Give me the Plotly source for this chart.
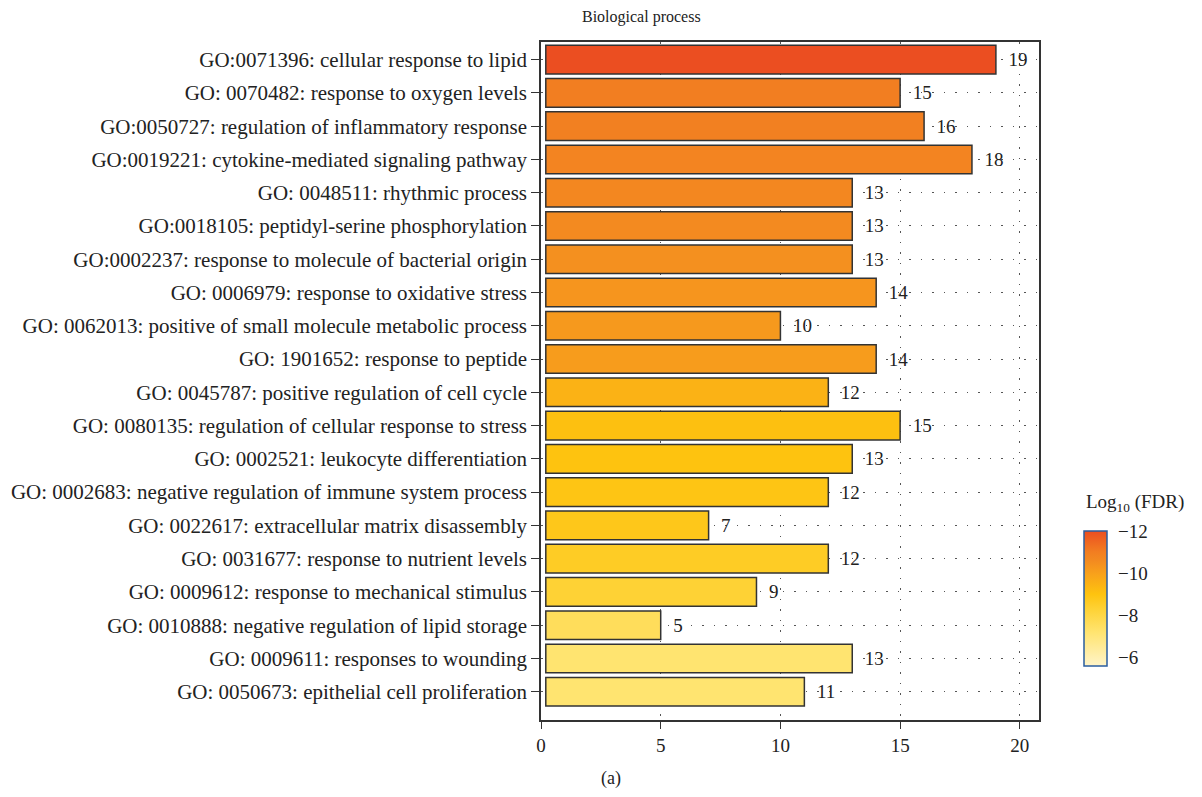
import plotly.graph_objects as go

terms = [
    "GO:0071396: cellular response to lipid",
    "GO: 0070482: response to oxygen levels",
    "GO:0050727: regulation of inflammatory response",
    "GO:0019221: cytokine-mediated signaling pathway",
    "GO: 0048511: rhythmic process",
    "GO:0018105: peptidyl-serine phosphorylation",
    "GO:0002237: response to molecule of bacterial origin",
    "GO: 0006979: response to oxidative stress",
    "GO: 0062013: positive of small molecule metabolic process",
    "GO: 1901652: response to peptide",
    "GO: 0045787: positive regulation of cell cycle",
    "GO: 0080135: regulation of cellular response to stress",
    "GO: 0002521: leukocyte differentiation",
    "GO: 0002683: negative regulation of immune system process",
    "GO: 0022617: extracellular matrix disassembly",
    "GO: 0031677: response to nutrient levels",
    "GO: 0009612: response to mechanical stimulus",
    "GO: 0010888: negative regulation of lipid storage",
    "GO: 0009611: responses to wounding",
    "GO: 0050673: epithelial cell proliferation",
]
gene_counts = [19, 15, 16, 18, 13, 13, 13, 14, 10, 14, 12, 15, 13, 12, 7, 12, 9, 5, 13, 11]
log10_fdr = [-12.5, -11.0, -10.95, -10.8, -10.7, -10.6, -10.45, -10.3, -10.2, -10.1,
             -9.5, -9.1, -9.0, -8.9, -8.8, -8.6, -8.3, -7.6, -7.2, -7.2]
cbar_ticks = [-12, -10, -8, -6]

FONT = "Liberation Serif"
base_off = 0.2
neg = [-v for v in log10_fdr]

cmin, cmax = 5.6, 12.0
def nz(v):
    return (v - cmin) / (cmax - cmin)

colorscale = [
    [0.0, "#FFF4C8"],
    [nz(7.2), "#FFE470"],
    [nz(8.3), "#FED235"],
    [nz(9.0), "#FEC30F"],
    [nz(10.0), "#F8A01B"],
    [nz(10.6), "#F38A20"],
    [nz(11.0), "#F27E21"],
    [1.0, "#EB4E21"],
]

ML, MR, MT, MB = 541, 163, 42, 77
W, H = 1202, 797
pw = W - ML - MR
ph = H - MT - MB

def px_x(x):
    return (x - ML) / pw

def px_y(y):
    return (H - MB - y) / ph

fig = go.Figure()
fig.add_trace(go.Bar(
    y=terms,
    x=[v - base_off for v in gene_counts],
    base=[base_off] * len(gene_counts),
    orientation="h",
    width=0.86,
    text=[str(v) for v in gene_counts],
    texttemplate="  %{text}",
    textposition="outside",
    textfont=dict(family=FONT, size=19, color="#222222"),
    cliponaxis=False,
    marker=dict(
        color=neg,
        cmin=cmin,
        cmax=cmax,
        colorscale=colorscale,
        line=dict(color="#333333", width=1.5),
        colorbar=dict(
            tickvals=[-t for t in cbar_ticks],
            ticktext=["\u2212" + str(-t) for t in cbar_ticks],
            tickfont=dict(family=FONT, size=19, color="#222222"),
            ticks="outside",
            ticklen=7,
            tickcolor="rgba(0,0,0,0)",
            thickness=23,
            thicknessmode="pixels",
            len=135,
            lenmode="pixels",
            x=px_x(1084),
            xanchor="left",
            xpad=0,
            y=px_y(666),
            yanchor="bottom",
            ypad=0,
            outlinecolor="#2A5D9F",
            outlinewidth=1.5,
        ),
    ),
    showlegend=False,
))

fig.update_layout(
    width=W,
    height=H,
    margin=dict(l=ML, r=MR, t=MT, b=MB),
    plot_bgcolor="white",
    paper_bgcolor="white",
    font=dict(family=FONT, size=18, color="#222222"),
    xaxis=dict(
        range=[0, 20.8],
        tickvals=[0, 5, 10, 15, 20],
        ticks="outside",
        ticklen=7,
        tickcolor="#333333",
        tickfont=dict(family=FONT, size=19, color="#222222"),
        showline=True,
        linecolor="#333333",
        linewidth=1.5,
        mirror=True,
        showgrid=True,
        gridcolor="#555555",
        gridwidth=1,
        griddash="1.5px,9px",
        zeroline=False,
    ),
    yaxis=dict(
        categoryorder="array",
        categoryarray=terms,
        range=[19.85, -0.53],
        ticks="outside",
        ticklen=8,
        tickcolor="#333333",
        tickfont=dict(family=FONT, size=21, color="#222222"),
        showline=True,
        linecolor="#333333",
        linewidth=1.5,
        mirror=True,
        showgrid=True,
        gridcolor="#555555",
        gridwidth=1,
        griddash="1.5px,10px",
    ),
    annotations=[
        dict(text="Biological process", x=px_x(641), y=px_y(17), xref="paper", yref="paper",
             xanchor="center", yanchor="middle", showarrow=False,
             font=dict(family=FONT, size=16, color="#222222")),
        dict(text="(a)", x=px_x(611), y=px_y(778), xref="paper", yref="paper",
             xanchor="center", yanchor="middle", showarrow=False,
             font=dict(family=FONT, size=18, color="#222222")),
        dict(text="Log<sub>10</sub> (FDR)", x=px_x(1084), y=px_y(503), xref="paper", yref="paper",
             xanchor="left", yanchor="middle", showarrow=False,
             font=dict(family=FONT, size=19, color="#222222")),
    ],
)

fig.write_html("out.html")
